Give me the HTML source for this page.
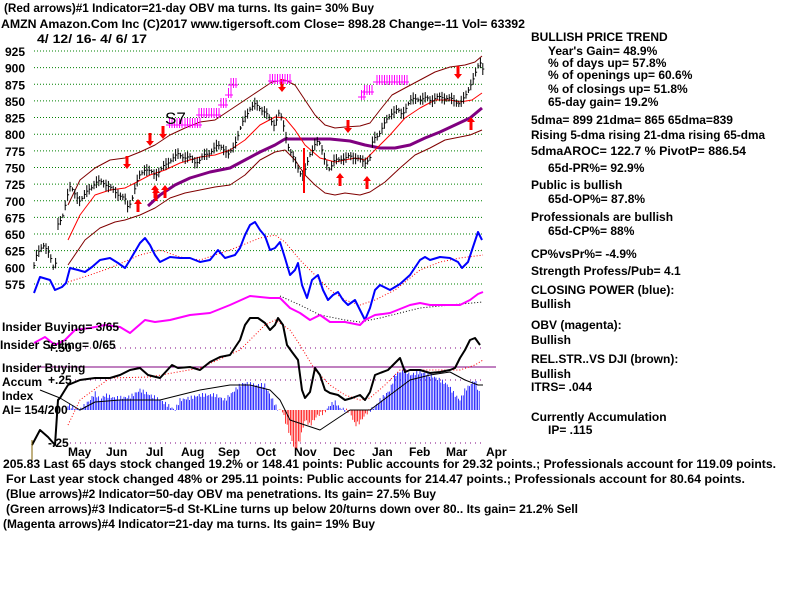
<!DOCTYPE html>
<html><head><meta charset="utf-8"><style>
html,body{margin:0;padding:0;background:#fff;width:800px;height:600px;overflow:hidden}
svg text{font-family:"Liberation Sans",sans-serif;font-weight:bold;font-size:12px;fill:#000}
</style></head><body>
<svg id="s" width="800" height="600" xmlns="http://www.w3.org/2000/svg">
<text x="4" y="12" textLength="370" lengthAdjust="spacingAndGlyphs">(Red arrows)#1 Indicator=21-day OBV ma turns. Its gain= 30% Buy</text>
<text x="1" y="28" textLength="524" lengthAdjust="spacingAndGlyphs">AMZN   Amazon.Com Inc  (C)2017 www.tigersoft.com    Close=  898.28  Change=-11 Vol= 63392</text>
<text x="37" y="43" textLength="110" lengthAdjust="spacingAndGlyphs">4/ 12/ 16- 4/ 6/ 17</text>
<g id="g"></g>
<g id="rt"></g>
<text x="3" y="468" textLength="773" lengthAdjust="spacingAndGlyphs">205.83 Last 65 days stock changed  19.2% or  148.41 points:  Public accounts for  29.32 points.;  Professionals account for  119.09 points.</text>
<text x="6" y="483" textLength="739" lengthAdjust="spacingAndGlyphs">For Last year stock changed  48% or  295.11 points:  Public accounts for  214.47 points.;  Professionals account for  80.64 points.</text>
<text x="6" y="498" textLength="430" lengthAdjust="spacingAndGlyphs">(Blue arrows)#2 Indicator=50-day OBV ma penetrations. Its gain= 27.5% Buy</text>
<text x="6" y="513" textLength="572" lengthAdjust="spacingAndGlyphs">(Green arrows)#3 Indicator=5-d St-KLine turns up below 20/turns down over 80.. Its gain= 21.2% Sell</text>
<text x="3" y="528" textLength="372" lengthAdjust="spacingAndGlyphs">(Magenta arrows)#4 Indicator=21-day ma turns. Its gain= 19% Buy</text>
</svg>
<script>
var NS="http://www.w3.org/2000/svg",g=document.getElementById("g");
function el(t,a,p,txt){var e=document.createElementNS(NS,t);for(var k in a)e.setAttribute(k,a[k]);if(txt!=null)e.textContent=txt;(p||g).appendChild(e);return e;}
function pl(pts,st,w,da){el("polyline",{points:pts.map(function(p){return p.join(",")}).join(" "),fill:"none",stroke:st,"stroke-width":w||1,"stroke-dasharray":da||"","stroke-linejoin":"round"});}
for(var i=0;i<=14;i++){var v=925-25*i,y=51+i*16.64;el("line",{x1:34,y1:y,x2:483,y2:y,stroke:"#008000","stroke-dasharray":"1,2"});el("text",{x:5,y:y+5},null,String(v));}
[[348,"+.50"],[380,"+.25"],[443,"-.25"]].forEach(function(a){el("line",{x1:70,y1:a[0],x2:483,y2:a[0],stroke:"#800080","stroke-dasharray":"1,4"});el("text",{x:48,y:a[0]+4},null,a[1]);});
[["May",68],["Jun",106],["Jul",146],["Aug",181],["Sep",218],["Oct",256],["Nov",294],["Dec",333],["Jan",372],["Feb",409],["Mar",446],["Apr",486]].forEach(function(m){el("text",{x:m[1],y:456},null,m[0]);});
function interp(pts,x){for(var i=0;i<pts.length-1;i++){if(x>=pts[i][0]&&x<=pts[i+1][0]){var t=(x-pts[i][0])/(pts[i+1][0]-pts[i][0]);return pts[i][1]+t*(pts[i+1][1]-pts[i][1]);}}return null;}
var ai=[[68,405],[80,410],[90,400],[95,393],[100,400],[105,395],[115,398],[130,397],[140,390],[150,395],[160,400],[175,410],[180,400],[190,398],[200,395],[215,395],[225,400],[235,390],[240,385],[245,383],[255,385],[265,385],[270,395],[278,410],[282,410],[285,420],[290,435],[295,450],[300,440],[305,420],[310,425],[318,415],[325,412],[330,405],[335,402],[340,408],[345,410],[350,412],[355,425],[360,422],[365,415],[370,410],[375,407],[380,400],[390,390],[395,375],[400,372],[405,370],[410,375],[420,372],[430,375],[440,380],[448,385],[455,395],[460,400],[465,390],[470,385],[475,380],[480,395]];
for(var x=68;x<=480;x+=1.6){var yy=interp(ai,x);if(yy==null)continue;var c=yy<410?"#0000ff":"#ff0000";el("line",{x1:x,y1:410,x2:x,y2:yy+(Math.sin(x*1.7)*2),stroke:c,"stroke-width":0.8});}
el("line",{x1:34,y1:367,x2:496,y2:367,stroke:"#800080","stroke-width":1});
pl([[40,390],[60,398],[80,410],[95,402],[120,400],[160,400],[200,390],[230,385],[250,385],[270,390],[280,400],[290,420],[305,425],[320,430],[335,420],[350,410],[370,410],[390,395],[410,380],[430,375],[450,372],[465,380],[478,385],[483,385]],"#000",1);
pl([[68,205],[80,180],[95,168],[110,160],[125,158],[140,152],[155,145],[170,135],[185,128],[200,122],[215,120],[230,110],[245,100],[260,90],[272,82],[285,80],[295,85],[305,100],[315,115],[325,125],[335,128],[345,127],[360,126],[370,123],[380,110],[392,95],[405,88],[420,80],[435,72],[450,67],[465,65],[475,62],[482,56]],"#800000",1);
pl([[68,265],[85,240],[100,228],[115,222],[125,220],[140,215],[155,208],[170,198],[185,193],[200,190],[215,187],[230,185],[245,175],[260,160],[275,152],[285,150],[295,160],[305,175],[315,185],[325,193],[335,195],[345,193],[360,195],[370,192],[385,182],[400,168],[415,155],[430,148],[445,140],[460,137],[470,135],[482,130]],"#800000",1);
pl([[148,206],[160,195],[175,185],[190,178],[210,172],[230,168],[245,160],[260,152],[275,145],[285,139],[295,139],[310,139],[330,139],[350,141],[365,145],[380,148],[395,148],[410,145],[425,138],[440,132],[455,125],[470,118],[482,108]],"#800080",3);
pl([[68,240],[80,215],[95,195],[110,190],[125,188],[135,183],[150,175],[165,170],[180,163],[200,157],[215,155],[230,150],[245,140],[260,125],[275,117],[285,118],[295,130],[305,145],[320,158],[335,162],[345,160],[355,158],[365,160],[375,150],[390,135],[405,118],[420,108],[435,100],[450,100],[460,102],[472,100],[482,93]],"#ff0000",1);
var pr=[[34,267],[37,253],[40,248],[43,245],[46,250],[50,255],[53,266],[56,262],[58,225],[62,220],[66,200],[68,192],[70,187],[75,195],[80,200],[85,195],[90,188],[95,183],[100,182],[105,183],[110,188],[115,192],[120,195],[125,200],[128,208],[132,198],[136,185],[140,175],[145,168],[150,172],[155,175],[160,170],[166,165],[172,158],[178,155],[185,157],[190,158],[195,162],[200,160],[205,155],[210,152],[215,148],[220,145],[225,150],[228,156],[232,150],[236,140],[240,130],[245,117],[250,108],[255,105],[260,108],[265,112],[270,120],[275,125],[278,112],[282,120],[288,145],[292,155],[296,165],[300,172],[303,175],[306,168],[310,155],[313,148],[316,140],[320,145],[325,160],[330,170],[335,160],[340,158],[345,160],[350,155],[355,158],[360,160],[365,162],[370,158],[373,140],[378,135],[382,128],[387,120],[392,112],[397,110],[402,115],[407,105],[412,100],[417,98],[422,100],[427,98],[432,100],[437,98],[442,97],[447,98],[452,100],[457,102],[460,103],[465,98],[470,85],[475,75],[480,62],[483,68]];
for(var x=34;x<=483;x+=2.4){var yy=interp(pr,x);if(yy==null)continue;var h=2+Math.abs(Math.sin(x*2.3))*4;var o=Math.sin(x*3.1)*1.5;el("line",{x1:x,y1:yy-h+o,x2:x,y2:yy+h+o,stroke:"#000","stroke-width":1});el("line",{x1:x,y1:yy+o,x2:x+1.5,y2:yy+o,stroke:"#000","stroke-width":1});}
pl([[68,282],[90,275],[110,268],[140,255],[160,250],[180,257],[200,260],[230,250],[260,238],[275,235],[285,242],[300,260],[315,275],[330,290],[345,300],[360,305],[375,300],[395,290],[420,270],[440,262],[460,258],[483,255]],"#ff0000",1,"1,2");
pl([[34,293],[40,277],[50,280],[55,290],[62,287],[66,283],[70,268],[78,270],[85,272],[92,267],[100,260],[110,258],[118,263],[125,268],[130,260],[140,243],[145,238],[150,245],[155,255],[160,262],[170,257],[180,258],[190,258],[200,262],[210,260],[218,250],[225,258],[235,255],[240,248],[245,235],[250,225],[255,222],[260,230],[265,236],[270,250],[275,248],[280,242],[285,258],[290,275],[295,270],[298,263],[302,285],[307,298],[312,280],[318,275],[323,290],[328,300],[333,295],[338,292],[343,300],[348,305],[355,300],[365,320],[370,308],[375,290],[380,285],[390,290],[400,284],[410,275],[420,260],[425,257],[430,260],[440,257],[450,258],[458,262],[462,268],[468,262],[472,250],[478,232],[482,240]],"#0000ff",2);
pl([[280,296],[300,305],[320,315],[345,320],[360,322],[380,318],[420,308],[450,305],[483,302]],"#000",1,"1,2");
pl([[34,343],[45,337],[55,345],[65,340],[75,330],[90,328],[105,325],[120,327],[130,333],[145,320],[155,322],[170,320],[190,315],[210,313],[230,305],[250,296],[260,297],[270,298],[280,298],[290,308],[300,313],[310,320],[320,315],[330,322],[345,322],[360,325],[365,320],[375,315],[390,313],[410,305],[420,303],[430,305],[450,305],[460,305],[470,300],[478,294],[483,292]],"#ff00ff",2);
pl([[68,425],[80,400],[110,378],[150,377],[200,368],[240,350],[265,325],[275,320],[290,330],[300,345],[315,370],[330,385],[345,395],[360,400],[370,398],[385,385],[400,370],[430,370],[460,370],[475,365],[483,360]],"#ff0000",1,"1,2");
pl([[32,445],[40,430],[48,437],[55,445],[58,400],[60,398],[68,385],[80,380],[95,378],[110,378],[120,375],[130,370],[140,368],[148,375],[160,378],[172,365],[178,368],[190,367],[200,370],[210,362],[220,357],[230,355],[240,340],[245,325],[250,318],[258,318],[265,323],[270,330],[275,325],[278,318],[283,325],[287,345],[292,352],[298,360],[302,390],[305,398],[310,392],[315,368],[320,375],[325,390],[330,393],[338,395],[345,400],[352,398],[360,395],[365,400],[370,392],[375,375],[380,373],[388,370],[395,363],[400,358],[405,372],[410,370],[420,370],[430,373],[440,372],[450,370],[455,368],[460,358],[465,350],[470,340],[475,338],[480,345]],"#000",2);
el("line",{x1:32,y1:440,x2:32,y2:460,stroke:"#806000"});
function arr(x,y,up,c){var d=up?-1:1;el("line",{x1:x,y1:y-d*8,x2:x,y2:y,stroke:c,"stroke-width":3});el("polygon",{points:(x-4)+","+y+" "+(x+4)+","+y+" "+x+","+(y+d*5),fill:c});}
[[127,164],[150,141],[163,134],[282,87],[348,128],[458,74]].forEach(function(a){arr(a[0],a[1],false,"#ff0000");});
[[138,204],[155,190],[165,190],[340,178],[367,181],[471,122],[156,193]].forEach(function(a){arr(a[0],a[1],true,"#ff0000");});
[[168,128,182],[183,128,200],[198,118,219],[220,108,226],[227,98,231],[230,88,236],[270,84,290],[360,100,364],[364,95,372],[375,85,407]].forEach(function(a){for(var x=a[2];x>=a[0];x-=2.5){el("line",{x1:x,y1:a[1]-10,x2:x,y2:a[1],stroke:"#ff00ff"});}el("line",{x1:a[0]-2,y1:a[1]-3,x2:a[2]+2,y2:a[1]-3,stroke:"#ff00ff"});});
el("text",{x:165,y:124,style:"font-size:17px;font-weight:normal"},null,"S7");
el("line",{x1:304,y1:148,x2:304,y2:193,stroke:"#ff0000","stroke-width":2});
[[2,331,"Insider Buying= 3/65"],[0,349,"Insider Selling= 0/65"],[2,372,"Insider Buying"],[2,386,"Accum"],[2,400,"Index"],[2,414,"AI= 154/200"]].forEach(function(a){el("text",{x:a[0],y:a[1]},null,a[2]);});
var rt=document.getElementById("rt");
[[531,41,"BULLISH PRICE TREND"],[548,55,"Year's Gain= 48.9%"],[548,67,"% of days up= 57.8%"],[548,79,"% of openings up= 60.6%"],[548,93,"% of closings up= 51.8%"],[548,106,"65-day gain= 19.2%"],[531,124,"5dma= 899 21dma= 865 65dma=839"],[531,139,"Rising 5-dma rising 21-dma rising 65-dma"],[531,155,"5dmaAROC= 122.7 %  PivotP= 886.54"],[548,172,"65d-PR%= 92.9%"],[531,189,"Public is bullish"],[548,203,"65d-OP%= 87.8%"],[531,221,"Professionals are bullish"],[548,235,"65d-CP%= 88%"],[531,258,"CP%vsPr%= -4.9%"],[531,275,"Strength Profess/Pub= 4.1"],[531,294,"CLOSING POWER (blue):"],[531,308,"Bullish"],[531,329,"OBV (magenta):"],[531,344,"Bullish"],[531,363,"REL.STR..VS DJI (brown):"],[531,378,"Bullish"],[531,391,"ITRS= .044"],[531,421,"Currently Accumulation"],[548,434,"IP=  .115"]].forEach(function(a){el("text",{x:a[0],y:a[1]},rt,a[2]);});
var t=rt.childNodes[6];t.setAttribute("textLength","202");t.setAttribute("lengthAdjust","spacingAndGlyphs");
t=rt.childNodes[7];t.setAttribute("textLength","234");t.setAttribute("lengthAdjust","spacingAndGlyphs");
t=rt.childNodes[8];t.setAttribute("textLength","215");t.setAttribute("lengthAdjust","spacingAndGlyphs");
</script>
</body></html>
